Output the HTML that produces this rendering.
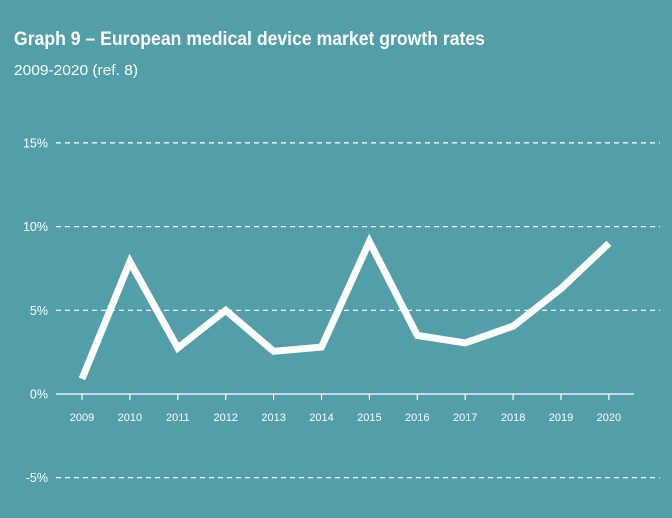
<!DOCTYPE html>
<html><head><meta charset="utf-8"><style>
body{margin:0;background:#529fa9;}
svg{display:block;font-family:"Liberation Sans",sans-serif;}
</style></head><body>
<svg id="chart" width="672" height="518" viewBox="0 0 672 518">
<rect width="672" height="518" fill="#529fa9"/>
<text x="14" y="45" font-size="19" font-weight="bold" fill="#fff" textLength="471" lengthAdjust="spacingAndGlyphs">Graph 9 – European medical device market growth rates</text>
<text x="14" y="75" font-size="14.5" fill="#fff" textLength="124" lengthAdjust="spacingAndGlyphs">2009-2020  (ref. 8)</text>
<g id="grid"></g><g id="xaxis"></g><g id="series"></g>
</svg>
<script>
const years=["2009","2010","2011","2012","2013","2014","2015","2016","2017","2018","2019","2020"];
const growth=[0.9,7.9,2.75,5.0,2.55,2.8,9.1,3.5,3.05,4.05,6.3,9.0];
const yTicks=[15,10,5,0,-5];
const yTickLabels=["15%","10%","5%","0%","-5%"];
const NS="http://www.w3.org/2000/svg";
function y(v){return 394-v*16.74;}
function x(i){return 82+i*47.9;}
function mk(t,a,p){const e=document.createElementNS(NS,t);for(const k in a)e.setAttribute(k,a[k]);p.appendChild(e);return e;}
const grid=document.getElementById('grid');
yTicks.forEach((v,i)=>{
  const l=mk('line',{x1:56,x2:660,y1:y(v),y2:y(v),stroke:'#fff','stroke-width':1.2,'stroke-dasharray':v===0?'none':'5,4'},grid);
  if(v===0){l.setAttribute('x2',634);}
  
  
  const t=mk('text',{x:48,y:y(v)+4.5,'text-anchor':'end','font-size':12.5,fill:'#fff'},grid);
  t.textContent=yTickLabels[i];
  
  
});
const xa=document.getElementById('xaxis');
years.forEach((yr,i)=>{
  const tk=mk('line',{x1:x(i),x2:x(i),y1:y(0),y2:y(0)+6,stroke:'#fff','stroke-width':1.2},xa);
  
  
  const t=mk('text',{x:x(i),y:y(0)+27,'text-anchor':'middle','font-size':11,fill:'#fff'},xa);
  t.textContent=yr;
  
  
});
const pts=growth.map((v,i)=>x(i)+','+y(v)).join(' ');
const pl=mk('polyline',{points:pts,fill:'none',stroke:'#fff','stroke-width':7,'stroke-linejoin':'miter','stroke-miterlimit':3},document.getElementById('series'));


</script>
</body></html>
